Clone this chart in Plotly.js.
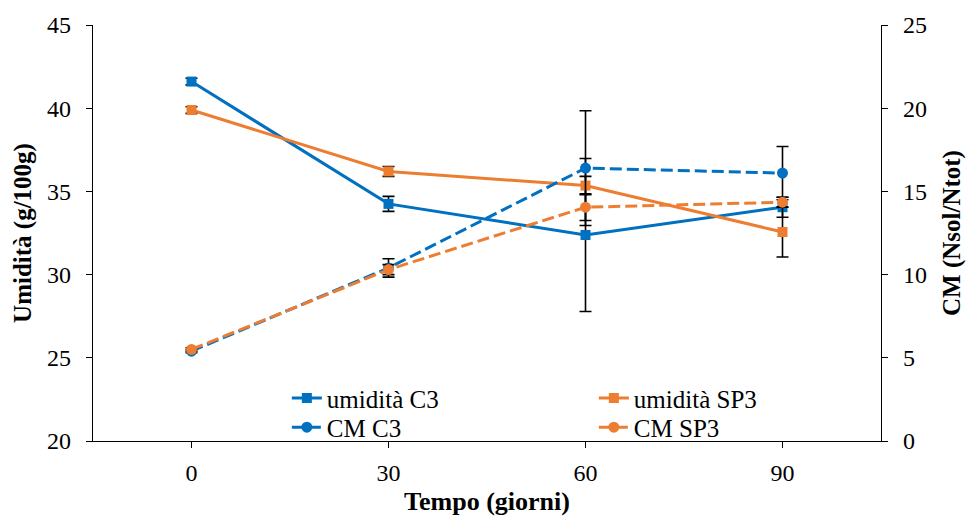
<!DOCTYPE html>
<html>
<head>
<meta charset="utf-8">
<script src="https://cdn.plot.ly/plotly-3.0.1.min.js"></script>
<style>html,body{margin:0;padding:0;background:#fff;}#chart{width:967px;height:520px;}</style>
</head>
<body>
<div id="chart"></div>
<script>
const days = [0, 30, 60, 90];
const umiditaC3 = [41.6, 34.25, 32.38, 34.05];
const umiditaC3Err = [0.2, 0.45, 4.6, 0.6];
const umiditaSP3 = [39.89, 36.2, 35.35, 32.56];
const umiditaSP3Err = [0.2, 0.3, 0.55, 1.5];
const cmC3 = [5.4, 10.4, 16.4, 16.1];
const cmC3Err = [0.1, 0.55, 3.45, 1.6];
const cmSP3 = [5.5, 10.3, 14.05, 14.35];
const cmSP3Err = [0.1, 0.3, 0.8, 0.3];
const xTicks = [0, 30, 60, 90];

const blue = '#0070C0', orange = '#ED7D31';
const font = 'Liberation Serif, Times New Roman, serif';
function eb(arr){return {type:'data', array:arr, visible:true, color:'#000', thickness:1.6, width:6};}

const traces = [
  {x:days, y:umiditaC3, name:'umidità C3', type:'scatter', mode:'lines+markers', legend:'legend',
   line:{color:blue, width:3}, marker:{symbol:'square', size:10, color:blue}, error_y:eb(umiditaC3Err)},
  {x:days, y:umiditaSP3, name:'umidità SP3', type:'scatter', mode:'lines+markers', legend:'legend',
   line:{color:orange, width:3}, marker:{symbol:'square', size:10, color:orange}, error_y:eb(umiditaSP3Err)},
  {x:days, y:cmC3, name:'CM C3', type:'scatter', mode:'lines+markers', yaxis:'y2', legend:'legend2',
   line:{color:blue, width:3, dash:'12px,5px'}, marker:{symbol:'circle', size:11, color:blue}, error_y:eb(cmC3Err)},
  {x:days, y:cmSP3, name:'CM SP3', type:'scatter', mode:'lines+markers', yaxis:'y2', legend:'legend2',
   line:{color:orange, width:3, dash:'12px,5px'}, marker:{symbol:'circle', size:11, color:orange}, error_y:eb(cmSP3Err)}
];

function leg(y){
  return {orientation:'h', x:0.246, y:y, xanchor:'left', yanchor:'top',
    entrywidth:262, entrywidthmode:'pixels', font:{family:font, size:25, color:'#000'},
    bgcolor:'rgba(0,0,0,0)', traceorder:'normal', tracegroupgap:0};
}

const layout = {
  width:967, height:520,
  margin:{l:93, r:86, t:25, b:79},
  paper_bgcolor:'#fff', plot_bgcolor:'#fff',
  font:{family:font, size:24, color:'#000'},
  showlegend:true,
  legend:leg(0.158),
  legend2:leg(0.088),
  xaxis:{range:[-15,105], tickvals:xTicks, ticktext:xTicks.map(String), showgrid:false, zeroline:false,
    showline:true, linecolor:'#000', linewidth:1.3, ticks:'outside', ticklen:6, tickcolor:'#000',
    tickfont:{family:font, size:24}, ticklabelstandoff:4,
    title:{text:'<b>Tempo (giorni)</b>', font:{family:font, size:26}, standoff:6}},
  yaxis:{range:[20,45], dtick:5, showgrid:false, zeroline:false, showline:true, linecolor:'#000', linewidth:1.3,
    ticks:'outside', ticklen:6, tickcolor:'#000', tickfont:{family:font, size:24}, ticklabelstandoff:10,
    title:{text:'<b>Umidità (g/100g)</b>', font:{family:font, size:25}, standoff:8}},
  yaxis2:{range:[0,25], dtick:5, overlaying:'y', side:'right', showgrid:false, zeroline:false,
    showline:true, linecolor:'#000', linewidth:1.3, ticks:'outside', ticklen:6, tickcolor:'#000',
    tickfont:{family:font, size:24}, ticklabelstandoff:10,
    title:{text:'<b>CM (Nsol/Ntot)</b>', font:{family:font, size:25}, standoff:16}}
};

Plotly.newPlot('chart', traces, layout, {displayModeBar:false, staticPlot:true});
</script>
</body>
</html>
